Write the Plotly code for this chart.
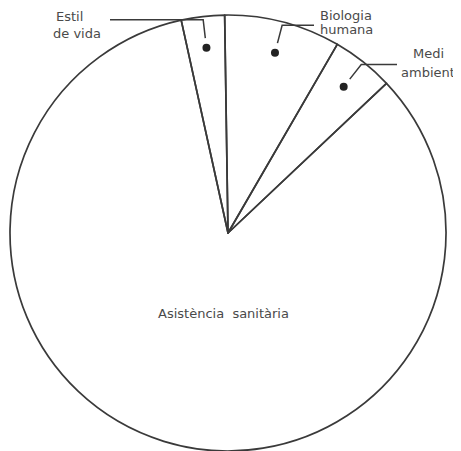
import math
import plotly.graph_objects as go

categories = ["Estil de vida", "Biologia humana", "Medi ambient", "Asistència sanitària"]
values = [3.2, 8.6, 4.6, 83.6]
start_angle = -12.4  # degrees, clockwise from 12 o'clock

WIN_W, WIN_H = 461, 451
OFF = 8                      # page body margin
FW, FH = WIN_W - OFF, WIN_H - OFF
CX, CY, R = 228, 233, 218    # pie centre and radius in window px

LINE = "#3a3a3a"
TEXT = "#4a4a4a"
FONT = "DejaVu Sans"

fx0, fx1 = (CX - OFF - R) / FW, (CX - OFF + R) / FW
fy_top = (CY - OFF - R)      # px from figure top
fig = go.Figure()
fig.add_trace(go.Pie(
    labels=categories, values=values, sort=False, direction="clockwise",
    rotation=start_angle, textinfo="none", hoverinfo="label+percent",
    marker=dict(colors=["rgba(0,0,0,0)"] * 4, line=dict(color=LINE, width=1.7)),
    domain=dict(x=[fx0, fx1], y=[(FH - fy_top - 2 * R) / FH, (FH - fy_top) / FH]),
    showlegend=False,
))

# slice mid-angles from the data
total = sum(values)
mids = []
acc = start_angle
for v in values:
    span = v / total * 360
    mids.append(acc + span / 2)
    acc += span

def pt(angle, frac):
    a = math.radians(angle)
    return CX + R * frac * math.sin(a), CY - R * frac * math.cos(a)

# leader lines and dots for the three small slices
label_ends = [110, 314, 397]   # x where horizontal leader meets the label
lx, ly, dx, dy = [], [], [], []
for i in range(3):
    x0, y0 = pt(mids[i], 0.9)
    x1, y1 = pt(mids[i], 0.985)
    lx += [x0, x1, label_ends[i], None]
    ly += [y0, y1, y1, None]
    px, py = pt(mids[i], 0.855)
    dx.append(px)
    dy.append(py)

fig.add_trace(go.Scatter(x=lx, y=ly, mode="lines", line=dict(color=LINE, width=1.5),
                         hoverinfo="skip", showlegend=False))
fig.add_trace(go.Scatter(x=dx, y=dy, mode="markers", marker=dict(color="#222", size=8),
                         hoverinfo="skip", showlegend=False))

labels = [
    ("Estil", 69, 16, "center"), ("de vida", 77, 33, "center"),
    ("Biologia", 346, 15, "center"), ("humana", 346, 29, "center"),
    ("Medi", 428, 53, "center"), ("ambient", 399, 72, "left"),
    ("Asistència  sanitària", 223, 313, "center"),
]
for t, x, y, xa in labels:
    fig.add_annotation(x=x, y=y, xref="x", yref="y", text=t, showarrow=False, xanchor=xa,
                       font=dict(family=FONT, size=13, color=TEXT))

fig.update_layout(
    width=FW, height=FH, margin=dict(l=0, r=0, t=0, b=0),
    paper_bgcolor="white", plot_bgcolor="rgba(0,0,0,0)",
    xaxis=dict(range=[OFF, WIN_W], visible=False, domain=[0, 1], fixedrange=True),
    yaxis=dict(range=[WIN_H, OFF], visible=False, domain=[0, 1], fixedrange=True),
)
fig.write_html("out.html")
